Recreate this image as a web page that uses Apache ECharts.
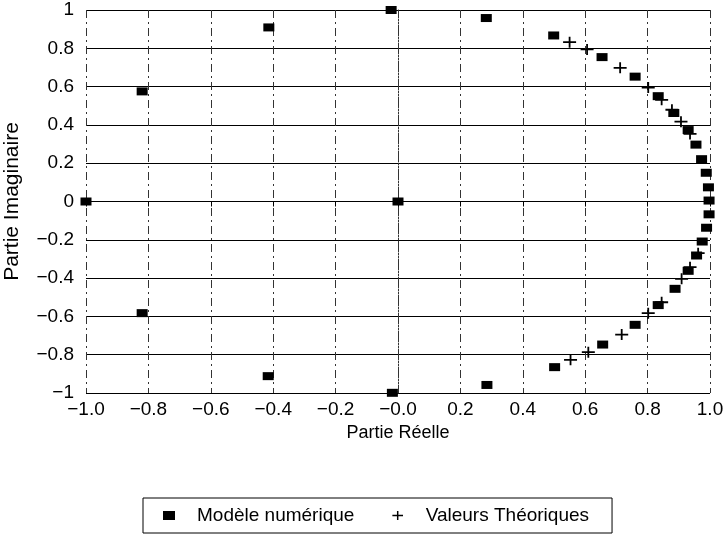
<!DOCTYPE html>
<html>
<head>
<meta charset="utf-8">
<title>Partie Imaginaire / Partie Réelle</title>
<script src="https://cdn.jsdelivr.net/npm/echarts@6/dist/echarts.min.js"></script>
<style>
  html, body { margin: 0; padding: 0; background: #fff; }
  #main { width: 724px; height: 539px; }
</style>
</head>
<body>
<div id="main"></div>
<script>
// Modèle numérique (carrés)
var modeleX = [-1.0, -0.82, -0.82, -0.414, -0.416, -0.022, -0.018, 0.0, 0.283, 0.285, 0.499, 0.502,
  0.654, 0.656, 0.760, 0.760, 0.834, 0.834, 0.884, 0.888, 0.930, 0.930, 0.955, 0.957,
  0.973, 0.975, 0.988, 0.989, 0.995, 0.997, 0.997];
var modeleY = [0.0, 0.575, -0.583, 0.909, -0.912, 1.0, -0.999, 0.0, 0.958, -0.958, 0.867, -0.865,
  0.754, -0.747, 0.652, -0.644, 0.550, -0.541, 0.462, -0.456, 0.373, -0.362, 0.297, -0.282,
  0.221, -0.209, 0.150, -0.137, 0.074, -0.067, 0.005];

// Valeurs théoriques (croix)
var theoX = [0.550, 0.606, 0.712, 0.802, 0.845, 0.878, 0.907, 0.936,
  0.553, 0.610, 0.717, 0.802, 0.845, 0.909, 0.936, 0.962];
var theoY = [0.832, 0.794, 0.698, 0.595, 0.531, 0.479, 0.417, 0.353,
  -0.827, -0.787, -0.695, -0.583, -0.526, -0.404, -0.343, -0.270];

var xTicks = { min: -1, max: 1, step: 0.2 };
var yTicks = { min: -1, max: 1, step: 0.2 };

var plusPath = 'path://M0,4.6H13V6.4H0Z M5.6,0H7.4V11H5.6Z';
var font = 'Liberation Sans';

function pairs(xs, ys) {
  return xs.map(function (x, i) { return [x, ys[i]]; });
}

function fmt(v, digits) {
  var s = Math.abs(v) < 1e-9 ? (0).toFixed(digits) : Math.abs(v).toFixed(digits);
  return (v < 0 || (digits > 0 && Math.abs(v) < 1e-9) ? '\u2212' : '') + s;
}

function initChart() {
  var chart = echarts.init(document.getElementById('main'), null, { renderer: 'canvas' });
  var option = {
    backgroundColor: '#fff',
    animation: false,
    textStyle: { fontFamily: font, color: '#000' },
    grid: { left: 86, right: 14, top: 10, bottom: 146, containLabel: false, outerBoundsMode: 'none' },
    xAxis: {
      type: 'value',
      min: xTicks.min,
      max: xTicks.max,
      interval: xTicks.step,
      name: 'Partie Réelle',
      nameLocation: 'middle',
      nameGap: 19,
      nameTextStyle: { fontFamily: font, fontSize: 18, color: '#000' },
      axisLine: { lineStyle: { color: '#000', width: 1 } },
      axisTick: { length: 5, lineStyle: { color: '#000' } },
      axisLabel: {
        fontFamily: font, fontSize: 19, color: '#000', margin: 7,
        formatter: function (v) { return fmt(v, 1); }
      },
      splitLine: { show: true, lineStyle: { color: '#333', width: 1, type: [8, 4, 2, 4] } }
    },
    yAxis: {
      type: 'value',
      min: yTicks.min,
      max: yTicks.max,
      interval: yTicks.step,
      name: 'Partie Imaginaire',
      nameLocation: 'middle',
      nameGap: 63,
      nameTextStyle: { fontFamily: font, fontSize: 21, color: '#000' },
      axisLine: { show: true, lineStyle: { color: '#333', width: 1, type: [8, 4, 2, 4] } },
      axisTick: { show: true, length: 7, lineStyle: { color: '#000' } },
      axisLabel: {
        fontFamily: font, fontSize: 19, color: '#000', margin: 12,
        formatter: function (v) {
          if (Math.abs(v) < 1e-9) return '0';
          if (Math.abs(Math.abs(v) - 1) < 1e-9) return (v < 0 ? '\u2212' : '') + '1';
          return fmt(v, 1);
        }
      },
      splitLine: { show: true, lineStyle: { color: '#000', width: 1 } }
    },
    legend: {
      left: 143,
      top: 498,
      padding: [8, 23, 8, 20],
      itemGap: 38,
      itemWidth: 12,
      itemHeight: 9,
      borderColor: '#000',
      borderWidth: 1,
      textStyle: { fontFamily: font, fontSize: 19, color: '#000', padding: [0, 0, 0, 17] },
      data: ['Modèle numérique', 'Valeurs Théoriques']
    },
    series: [
      {
        name: 'Modèle numérique',
        type: 'scatter',
        symbol: 'rect',
        symbolSize: [11, 8],
        clip: false,
        itemStyle: { color: '#000', opacity: 1 },
        data: pairs(modeleX, modeleY)
      },
      {
        name: 'Valeurs Théoriques',
        type: 'scatter',
        symbol: plusPath,
        symbolSize: [13, 11],
        clip: false,
        itemStyle: { color: '#000', opacity: 1 },
        data: pairs(theoX, theoY)
      }
    ]
  };
  chart.setOption(option);
  return chart;
}

initChart();
</script>
</body>
</html>
